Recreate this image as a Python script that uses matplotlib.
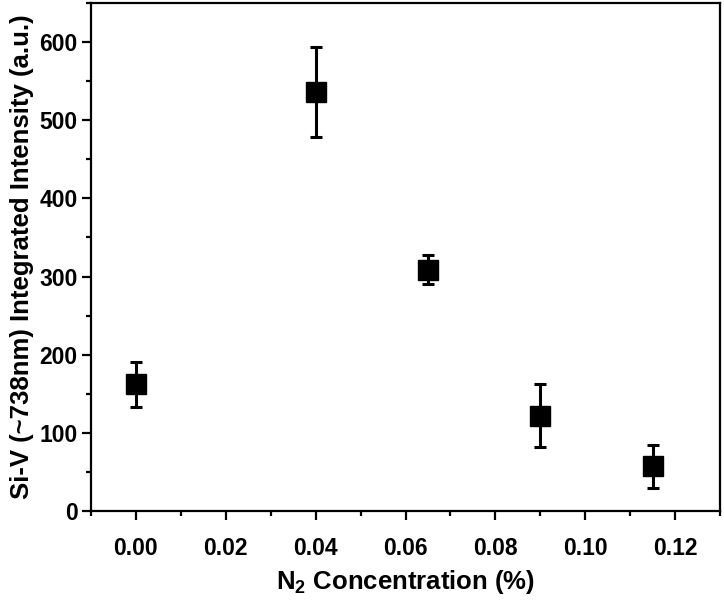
import matplotlib.pyplot as plt
from matplotlib.ticker import MultipleLocator

plt.rcParams['font.family'] = ['Liberation Sans', 'DejaVu Sans']
plt.rcParams['font.weight'] = 'bold'
plt.rcParams['mathtext.fontset'] = 'custom'
plt.rcParams['mathtext.rm'] = 'Liberation Sans:bold'
plt.rcParams['mathtext.default'] = 'rm'

# N2 concentration (%) vs Si-V integrated intensity
n2_conc = [0.0, 0.04, 0.065, 0.09, 0.115]
intensity = [162, 536, 309, 122, 57]
err_up = [29, 58, 19, 40, 27]
err_down = [29, 58, 19, 40, 28]

fig = plt.figure(figsize=(7.24, 6.04), dpi=100)
ax = fig.add_axes([0.1257, 0.154, 0.8688, 0.841])

ax.errorbar(n2_conc, intensity, yerr=[err_down, err_up], fmt='s', color='black',
            markersize=14.5, elinewidth=2.2, capsize=4.5, capthick=2.2)

ax.set_xlim(-0.01, 0.13)
ax.set_ylim(0, 650)
ax.xaxis.set_major_locator(MultipleLocator(0.02))
ax.xaxis.set_minor_locator(MultipleLocator(0.01))
ax.yaxis.set_major_locator(MultipleLocator(100))
ax.yaxis.set_minor_locator(MultipleLocator(50))
ax.xaxis.set_major_formatter(plt.FormatStrFormatter('%.2f'))

for s in ax.spines.values():
    s.set_linewidth(1.6)
ax.tick_params(which='major', direction='out', length=6.5, width=1.6, labelsize=16.5)
ax.tick_params(axis='x', which='major', pad=12)
ax.tick_params(axis='y', which='major', pad=3)
ax.tick_params(which='minor', direction='out', length=3.5, width=1.6)
ax.tick_params(top=False, right=False, which='both')

ax.set_xlabel(r'N$_2$ Concentration (%)', fontsize=18.5, fontweight='bold', labelpad=6)
ax.set_ylabel('Si-V (~738nm) Integrated Intensity (a.u.)', fontsize=18.5, fontweight='bold', labelpad=4)

fig.savefig('out.png', dpi=100)
